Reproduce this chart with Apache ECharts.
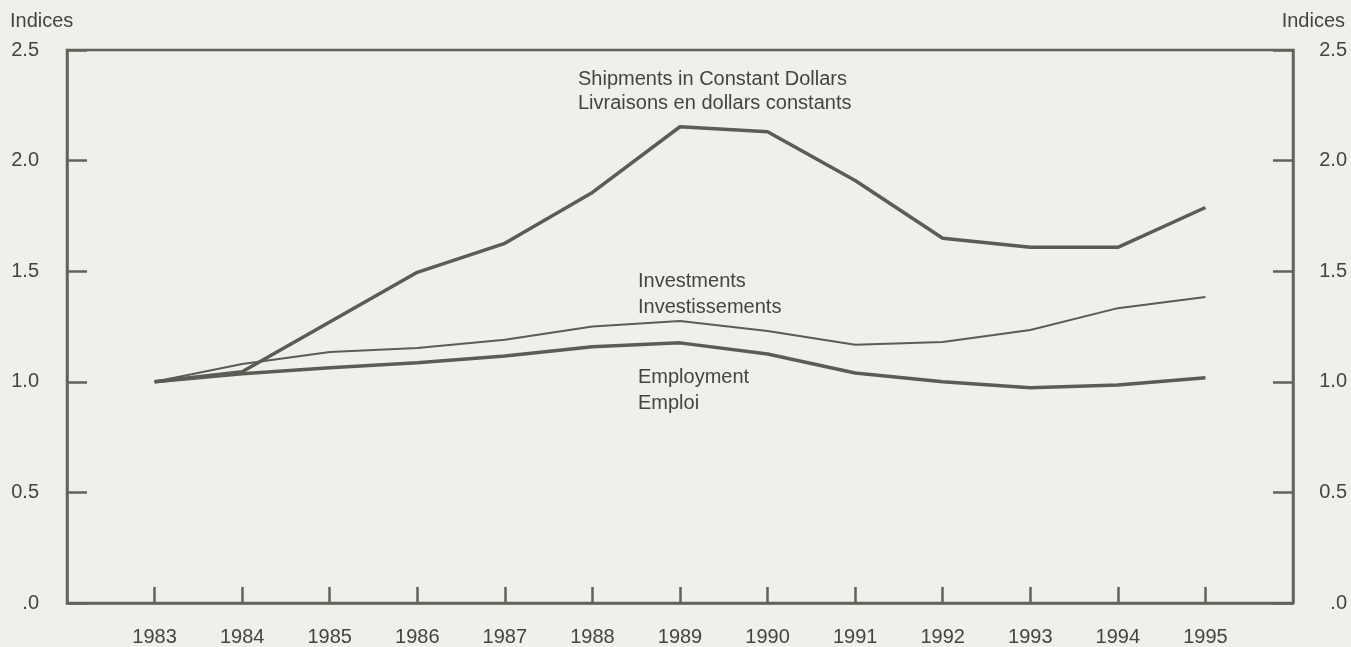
<!DOCTYPE html>
<html>
<head>
<meta charset="utf-8">
<script src="https://cdn.jsdelivr.net/npm/echarts@6/dist/echarts.min.js"></script>
<style>
  html, body { margin: 0; padding: 0; background: #efefeb; }
  #chart { width: 1351px; height: 647px; }
</style>
</head>
<body>
<div id="chart"></div>
<script>
// years on the x axis
var years = [1983, 1984, 1985, 1986, 1987, 1988, 1989, 1990, 1991, 1992, 1993, 1994, 1995];
// index values (1983 = 1.0)
var shipments = [1.0, 1.045, 1.27, 1.495, 1.626, 1.856, 2.153, 2.13, 1.91, 1.649, 1.608, 1.608, 1.788];
var investments = [1.0, 1.08, 1.135, 1.153, 1.19, 1.25, 1.275, 1.23, 1.167, 1.18, 1.234, 1.333, 1.383];
var employment = [1.0, 1.036, 1.063, 1.086, 1.117, 1.158, 1.176, 1.126, 1.04, 1.0, 0.973, 0.986, 1.018];
var yTicks = ['.0', '0.5', '1.0', '1.5', '2.0', '2.5'];

var axisColor = '#63635a';
var lineColor = '#5c5c54';
var textColor = '#45453f';
var font = '"Liberation Sans", Arial, sans-serif';
var fs = 20;

function pairs(vals) {
  return years.map(function (y, i) { return [y, vals[i]]; });
}

function yAxisDef(pos, margin) {
  return {
    type: 'value',
    position: pos,
    min: 0,
    max: 2.5,
    interval: 0.5,
    axisLine: { show: true, lineStyle: { color: axisColor, width: 2.5 } },
    axisTick: { show: true, inside: true, length: 20, lineStyle: { color: axisColor, width: 2.5 } },
    splitLine: { show: false },
    axisLabel: {
      margin: margin,
      align: 'right',
      color: textColor,
      fontFamily: font,
      fontSize: fs,
      formatter: function (v) { return yTicks[Math.round(v / 0.5)]; }
    }
  };
}

var chart = echarts.init(document.getElementById('chart'));
var option = {
  backgroundColor: '#efefeb',
  animation: false,
  grid: {
    left: 67, right: 58, top: 50, bottom: 43,
    show: true, borderColor: axisColor, borderWidth: 2.5, backgroundColor: 'transparent'
  },
  xAxis: {
    type: 'value',
    min: 1982,
    max: 1996,
    interval: 1,
    axisLine: { show: true, lineStyle: { color: axisColor, width: 2.5 } },
    axisTick: { show: true, inside: true, length: 16, lineStyle: { color: axisColor, width: 2.5 } },
    splitLine: { show: false },
    axisLabel: {
      margin: 24,
      color: textColor,
      fontFamily: font,
      fontSize: fs,
      showMinLabel: false,
      showMaxLabel: false,
      formatter: function (v) { return (v < 1983 || v > 1995) ? '' : String(v); }
    }
  },
  yAxis: [yAxisDef('left', 28), yAxisDef('right', 54)],
  series: [
    {
      name: 'Shipments', type: 'line', data: pairs(shipments), symbol: 'none',
      lineStyle: { color: lineColor, width: 3.5 }
    },
    {
      name: 'Investments', type: 'line', data: pairs(investments), symbol: 'none',
      lineStyle: { color: lineColor, width: 2 }
    },
    {
      name: 'Employment', type: 'line', data: pairs(employment), symbol: 'none',
      lineStyle: { color: lineColor, width: 3.5 }
    }
  ],
  graphic: [
    { type: 'text', x: 10, y: 21, style: { text: 'Indices', fill: textColor, font: fs + 'px ' + font, verticalAlign: 'middle' } },
    { type: 'text', x: 1345, y: 21, style: { text: 'Indices', fill: textColor, font: fs + 'px ' + font, align: 'right', verticalAlign: 'middle' } },
    { type: 'text', x: 578, y: 67, style: { text: 'Shipments in Constant Dollars\nLivraisons en dollars constants', fill: textColor, font: fs + 'px ' + font, lineHeight: 24, verticalAlign: 'top' } },
    { type: 'text', x: 638, y: 268, style: { text: 'Investments\nInvestissements', fill: textColor, font: fs + 'px ' + font, lineHeight: 26, verticalAlign: 'top' } },
    { type: 'text', x: 638, y: 364, style: { text: 'Employment\nEmploi', fill: textColor, font: fs + 'px ' + font, lineHeight: 26, verticalAlign: 'top' } }
  ]
};
chart.setOption(option);
</script>
</body>
</html>
